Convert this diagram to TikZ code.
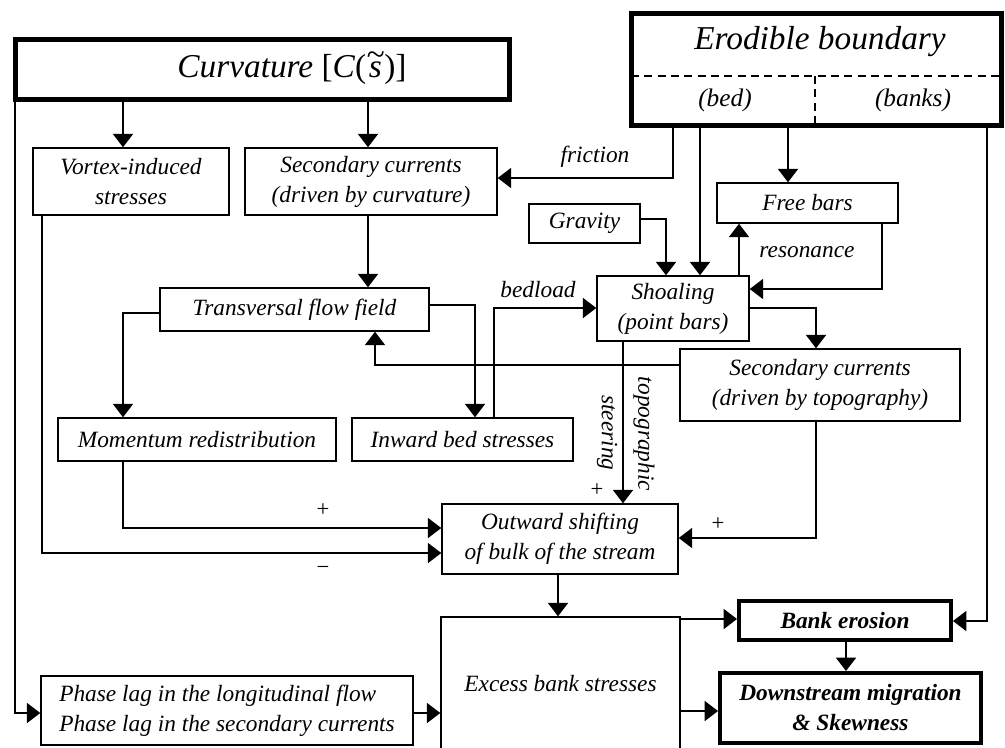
\documentclass[tikz,border=0pt]{standalone}
\usepackage{fontspec}
\setmainfont{Liberation Serif}
\usetikzlibrary{arrows.meta}
\newcommand{\mybox}[7]{\node[#6, minimum width={(#4-#2)*0.75pt}, minimum height={(#5-#3)*0.75pt}] (#1) at ({(#2+#4)/2},{(#3+#5)/2}) {#7};}
\newcommand{\tildes}{\ooalign{\hfil\textit{s}\hfil\cr\hfil\raisebox{0.36em}{\textit{\textasciitilde}}\hfil\cr}}
\begin{document}
\begin{tikzpicture}[x=0.75pt,y=-0.75pt,
  box/.style={draw, line width=1.1pt, inner sep=0pt, align=center, font=\fontsize{17.5}{22.5}\selectfont\itshape},
  thickbox/.style={box, line width=3.75pt},
  endbox/.style={box, line width=3pt, font=\fontsize{17.5}{22.5}\selectfont\bfseries\itshape},
  arr/.style={line width=1.1pt, -{Triangle[length=10pt,width=15pt]}},
  lbl/.style={inner sep=0pt, font=\fontsize{17.5}{21}\selectfont\itshape},
  sgn/.style={inner sep=0pt, font=\fontsize{17}{17}\selectfont},
  dsh/.style={line width=1.1pt, dash pattern=on 6pt off 4pt}]
\fill[white] (0,0) rectangle (1005,747);
\useasboundingbox (0,0) rectangle (1005,747);

% boxes
\mybox{curv}{15}{39}{509}{99}{thickbox, font=\fontsize{25}{30}\selectfont}{\hspace*{45pt}\textit{Curvature} [\textit{C}(\tildes)]}
\mybox{erod}{631}{13}{1001}{125}{thickbox}{}
\node[lbl, font=\fontsize{25}{30}\selectfont\itshape] (erodt) at (820,42) {Erodible boundary};
\node[lbl, font=\fontsize{19}{22}\selectfont\itshape] (bed) at (725,100) {(bed)};
\node[lbl, font=\fontsize{19}{22}\selectfont\itshape] (banks) at (913,100) {(banks)};
\draw[dsh] (631,76) -- (1001,76);
\draw[dsh] (815,76) -- (815,125);

\mybox{vort}{33}{148}{229}{215}{box}{Vortex-induced\\stresses}
\mybox{sc1}{245}{148}{497}{215}{box}{Secondary currents\\(driven by curvature)}
\mybox{grav}{529}{204}{640}{243}{box}{Gravity}
\mybox{free}{717}{183}{898}{223}{box}{Free bars}
\mybox{shoal}{597}{276}{749}{341}{box}{Shoaling\\(point bars)}
\mybox{trans}{160}{288}{429}{331}{box}{Transversal flow field}
\mybox{sc2}{680}{349}{960}{421}{box}{Secondary currents\\(driven by topography)}
\mybox{mom}{58}{418}{336}{461}{box}{Momentum redistribution}
\mybox{inw}{352}{418}{573}{461}{box}{Inward bed stresses}
\mybox{outw}{442}{504}{678}{574}{box}{Outward shifting\\of bulk of the stream}
\mybox{exc}{441}{617}{680}{750}{box}{Excess bank stresses}
\mybox{phase}{41}{676}{413}{745}{box, align=left}{Phase lag in the longitudinal flow\\Phase lag in the secondary currents}
\mybox{bank}{739}{601}{951}{640}{endbox}{Bank erosion}
\mybox{down}{720}{673}{981}{743}{endbox}{Downstream migration\\\& Skewness}

% connectors
\draw[arr] (123,0 |- curv.south) -- (123,0 |- vort.north);
\draw[arr] (368,0 |- curv.south) -- (368,0 |- sc1.north);
\draw[arr] (673,0 |- erod.south) |- (sc1.east |- 0,178);
\node[lbl] (lfric) at (595,157) {friction};
\draw[arr] (700,0 |- erod.south) -- (700,0 |- shoal.north);
\draw[arr] (788,0 |- erod.south) -- (788,0 |- free.north);
\draw[arr] (grav.east |- 0,219) -| (666,0 |- shoal.north);
\draw[arr] (739,0 |- shoal.north) -- (739,0 |- free.south);
\node[lbl] (lres) at (807,252) {resonance};
\draw[arr] (882,0 |- free.south) |- (shoal.east |- 0,289);
\draw[arr] (494,0 |- inw.north) |- (shoal.west |- 0,308);
\node[lbl] (lbed) at (538,290) {bedload};
\draw[arr] (shoal.east |- 0,308) -| (816,0 |- sc2.north);
\draw[arr] (sc2.west |- 0,365) -| (375,0 |- trans.south);
\draw[arr] (368,0 |- sc1.south) -- (368,0 |- trans.north);
\draw[arr] (trans.west |- 0,313) -| (123,0 |- mom.north);
\draw[arr] (trans.east |- 0,305) -| (475,0 |- inw.north);
\draw[arr] (123,0 |- mom.south) |- (outw.west |- 0,528);
\draw[arr] (42,0 |- vort.south) |- (outw.west |- 0,553);
\node[sgn] (p1) at (323,510) {+};
\node[sgn] (m1) at (323,570) {−};
\draw[arr] (623,0 |- shoal.south) -- (623,0 |- outw.north);
\node[lbl, rotate=-90] (lsteer) at (607,433) {steering};
\node[lbl, rotate=-90] (ltopo) at (644,434) {topographic};
\node[sgn] (p2) at (597,490) {+};
\draw[arr] (816,0 |- sc2.south) |- (outw.east |- 0,538);
\node[sgn] (p3) at (718,524) {+};
\draw[arr] (558,0 |- outw.south) -- (558,0 |- exc.north);
\draw[arr] (exc.east |- 0,619) -- (bank.west |- 0,619);
\draw[arr] (exc.east |- 0,711) -- (down.west |- 0,711);
\draw[arr] (987,0 |- erod.south) |- (bank.east |- 0,621);
\draw[arr] (846,0 |- bank.south) -- (846,0 |- down.north);
\draw[arr] (15,0 |- curv.south) |- (phase.west |- 0,713);
\draw[arr] (phase.east |- 0,713) -- (exc.west |- 0,713);
\end{tikzpicture}
\end{document}
